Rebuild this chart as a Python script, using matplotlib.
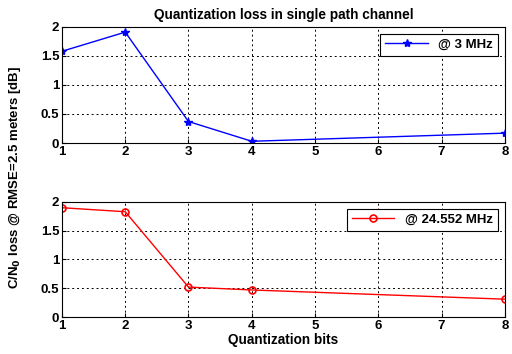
import matplotlib
matplotlib.use("Agg")
import matplotlib.pyplot as plt

bits = [1, 2, 3, 4, 8]
loss_3mhz = [1.58, 1.91, 0.37, 0.03, 0.17]
loss_24mhz = [1.90, 1.83, 0.52, 0.47, 0.31]
xticks = [1, 2, 3, 4, 5, 6, 7, 8]
yticks = [0, 0.5, 1, 1.5, 2]

plt.rcParams['font.family'] = ['Liberation Sans', 'DejaVu Sans']
plt.rcParams['font.weight'] = 'bold'

fig = plt.figure(figsize=(5.12, 3.54), dpi=100)
ax1 = fig.add_axes([0.121, 0.596, 0.865, 0.328])
ax2 = fig.add_axes([0.121, 0.1045, 0.865, 0.325])

ax1.plot(bits, loss_3mhz, color='blue', marker='*', markersize=6, lw=1, label='@ 3 MHz')
ax2.plot(bits, loss_24mhz, color='red', marker='o', markersize=5, mfc='none', mew=1.2, lw=1, label='@ 24.552 MHz')

for ax in (ax1, ax2):
    ax.set_xlim(1, 8)
    ax.set_ylim(0, 2)
    ax.set_xticks(xticks)
    ax.set_yticks(yticks)
    ax.set_yticklabels(['0', '0.5', '1', '1.5', '2'])
    ax.grid(True, color='black', linestyle=(0, (2, 3)), linewidth=0.7)
    ax.tick_params(labelsize=9.5, direction='in', length=3, pad=2)
    for s in ax.spines.values():
        s.set_linewidth(0.8)
    leg = ax.legend(loc='upper right', fontsize=9.5, fancybox=False, framealpha=1,
                    edgecolor='black', handlelength=3.2, borderpad=0.4)
    leg.get_frame().set_linewidth(0.8)

ax1.set_title('Quantization loss in single path channel', fontsize=9.8, fontweight='bold', pad=6)
ax2.set_xlabel('Quantization bits', fontsize=9.8, fontweight='bold', labelpad=1)
fig.text(0.03, 0.5, 'C/N$_0$ loss @ RMSE=2.5 meters [dB]', rotation=90, va='center', ha='center',
         fontsize=9.5, fontweight='bold')

fig.savefig('out.png', dpi=100)
